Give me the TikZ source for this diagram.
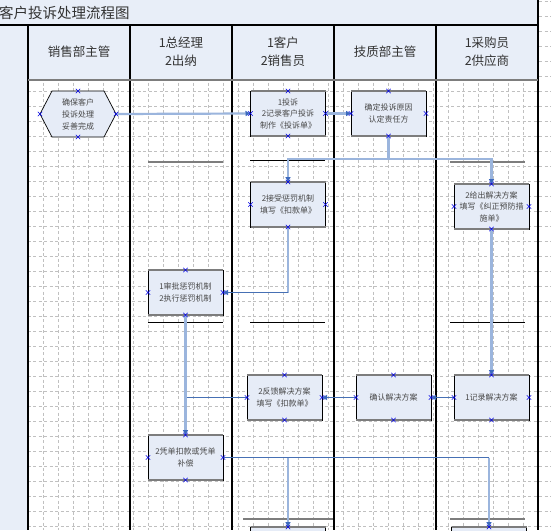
\documentclass[tikz,border=0pt]{standalone}
\usepackage{fontspec}
\setmainfont{Noto Sans CJK SC}
\usetikzlibrary{arrows.meta,calc}
\definecolor{hdr}{RGB}{232,238,248}
\definecolor{boxfill}{RGB}{230,236,247}
\definecolor{lightln}{RGB}{155,181,221}
\definecolor{darkln}{RGB}{70,112,180}
\definecolor{tipblue}{RGB}{60,105,190}
\definecolor{gridc}{RGB}{192,192,192}
\definecolor{sepg}{RGB}{125,125,125}
\definecolor{txtc}{RGB}{72,72,72}
\definecolor{cpblue}{RGB}{0,0,230}
\begin{document}
\begin{tikzpicture}[x=1pt,y=-1pt,
  gridln/.style={draw=gridc,line width=0.8pt,dash pattern=on 3pt off 2.5pt},
  laneln/.style={draw=black,line width=1.2pt},
  septhick/.style={draw=sepg,line width=2pt},
  septhin/.style={draw=black,line width=1pt},
  procbox/.style={draw=black,line width=0.7pt,fill=boxfill,minimum width=75pt,minimum height=45pt,
     inner sep=1pt,outer sep=0pt,align=center,text=txtc,font=\fontsize{8}{11.5}\selectfont},
  boxtext/.style={align=center,text=txtc,inner sep=0pt,font=\fontsize{8}{12}\selectfont},
  boxedge/.style={draw=sepg,line width=1.6pt},
  hdrtext/.style={align=center,text=black!80,font=\fontsize{12.5}{18}\selectfont},
  titletext/.style={text=black!80,inner sep=0pt,font=\fontsize{14.5}{16}\selectfont},
  thickconn/.style={draw=lightln,line width=2.2pt},
  thinconn/.style={draw=darkln,line width=1pt},
  tipped/.style={-{Triangle[length=5pt,width=5pt,color=tipblue]}},
  cpmark/.style={draw=cpblue,line width=0.6pt}
]
\useasboundingbox (0,0) rectangle (551,530);
\clip (0,0) rectangle (551,530);
\fill[white] (0,0) rectangle (551,530);
% grid
\foreach \k in {0,...,34} {\draw[gridln] (28.3+15*\k,0) -- (28.3+15*\k,530);}
\foreach \k in {0,...,35} {\draw[gridln] (0,1.7+15*\k) -- (551,1.7+15*\k);}
% title bar, header, left strip
\fill[hdr] (0,0) rectangle (538,25);
\fill[hdr] (0,25) rectangle (538,80);
\fill[hdr] (0,25) rectangle (28,530);
\node[titletext,anchor=west] (title) at (-1,12.5) {客户投诉处理流程图};
% lane lines
\draw[laneln] (0,25) -- (538,25);
\draw[laneln] (538,0) -- (538,530);
\foreach \x in {28,130,232,334,436} {\draw[laneln] (\x,25) -- (\x,530);}
\draw[draw=sepg,line width=2.5pt] (28,80) -- (538,80);
% header texts
\node[hdrtext] (h1) at (79,52) {销售部主管};
\node[hdrtext] (h2) at (181,52) {1总经理\\2出纳};
\node[hdrtext] (h3) at (283,52) {1客户\\2销售员};
\node[hdrtext] (h4) at (385,52) {技质部主管};
\node[hdrtext] (h5) at (487,52) {1采购员\\2供应商};
% separators
\draw[septhick] (148,161.5) -- (223,161.5);
\draw[septhin] (250,160) -- (325,160);
\draw[septhick] (450,161.5) -- (525,161.5);
\draw[septhin] (148,322) -- (223,322);
\draw[septhin] (250,322) -- (325,322);
\draw[septhin] (450,322) -- (525,322);
\draw[septhick] (243,519) -- (333,519);
\draw[septhick] (450,519) -- (525,519);
% shapes
\node[minimum width=76pt,minimum height=46pt,inner sep=0pt,outer sep=0pt] (hex) at (78,114) {};
\node[procbox] (b2) at (288,113.5) {1投诉\\2记录客户投诉\\制作《投诉单》};
\node[procbox] (b3) at (388.5,113.5) {确定投诉原因\\认定责任方};
\node[procbox] (b4) at (288,204.5) {2接受惩罚机制\\填写《扣款单》};
\node[procbox] (b5) at (491.5,206.5) {2给出解决方案\\填写《纠正预防措\\施单》};
\node[procbox] (b6) at (185.5,292.5) {1审批惩罚机制\\2执行惩罚机制};
\node[procbox] (b7) at (284.5,397.5) {2反馈解决方案\\填写《扣款单》};
\node[procbox] (b8) at (393.5,397.5) {确认解决方案};
\node[procbox] (b9) at (491.5,397.5) {1记录解决方案};
\node[procbox] (b10) at (185.5,457.5) {2凭单扣款或凭单\\补偿};
\node[procbox] (b11) at (288,549.5) {};
\node[procbox] (b12) at (489,549.5) {};
\foreach \n in {b2,b3,b4,b5,b6,b7,b8,b9,b10,b11,b12} {
  \draw[boxedge] (\n.north west) -- (\n.north east);
  \draw[boxedge] (\n.south west) -- (\n.south east);
}
% hexagon
\filldraw[fill=boxfill,draw=black,line width=0.7pt] (hex.west) -- ([xshift=12pt]hex.north west) -- ([xshift=-12pt]hex.north east)
  -- (hex.east) -- ([xshift=-12pt]hex.south east) -- ([xshift=12pt]hex.south west) -- cycle;
\node[boxtext] (hext) at (hex.center) {确保客户\\投诉处理\\妥善完成};
% connectors
\draw[thickconn,tipped] (hex.east) -- (b2.west);
\draw[thickconn,tipped] (b2.east) -- (b3.west);
\coordinate (j1) at ($(b3.south)+(0,22.7)$);
\draw[thickconn] (b3.south) -- (j1);
\draw[thickconn,tipped] (j1) -| (b4.north);
\draw[thickconn,tipped] (j1) -| (b5.north);
\coordinate (c1) at (b4.south |- b6.east);
\draw[thickconn] (b4.south) -- (c1);
\draw[thinconn,tipped] (c1) -- (b6.east);
\draw[thickconn,tipped] (b5.south) -- (b9.north);
\draw[thinconn,tipped] (b9.west) -- (b8.east);
\draw[thinconn,tipped] (b8.west) -- (b7.east);
\coordinate (c2) at (b7.west -| b6.south);
\draw[thinconn] (b7.west) -- (c2);
\draw[thickconn,tipped] (b6.south) -- (b10.north);
\coordinate (c3) at (b10.east -| b11.north);
\coordinate (c4) at (b10.east -| b12.north);
\draw[thinconn] (b10.east) -- (c4);
\draw[thickconn,tipped] (c3) -- (b11.north);
\draw[thickconn,tipped] (c4) -- (b12.north);
% connection point marks
\foreach \n in {hex,b2,b3,b4,b5,b6,b7,b8,b9,b10,b11,b12} {
  \foreach \a in {north,south,east,west} {
    \draw[cpmark] (\n.\a) +(-2.2,-2.2) -- +(2.2,2.2) +(-2.2,2.2) -- +(2.2,-2.2);
  }
}
\end{tikzpicture}
\end{document}
